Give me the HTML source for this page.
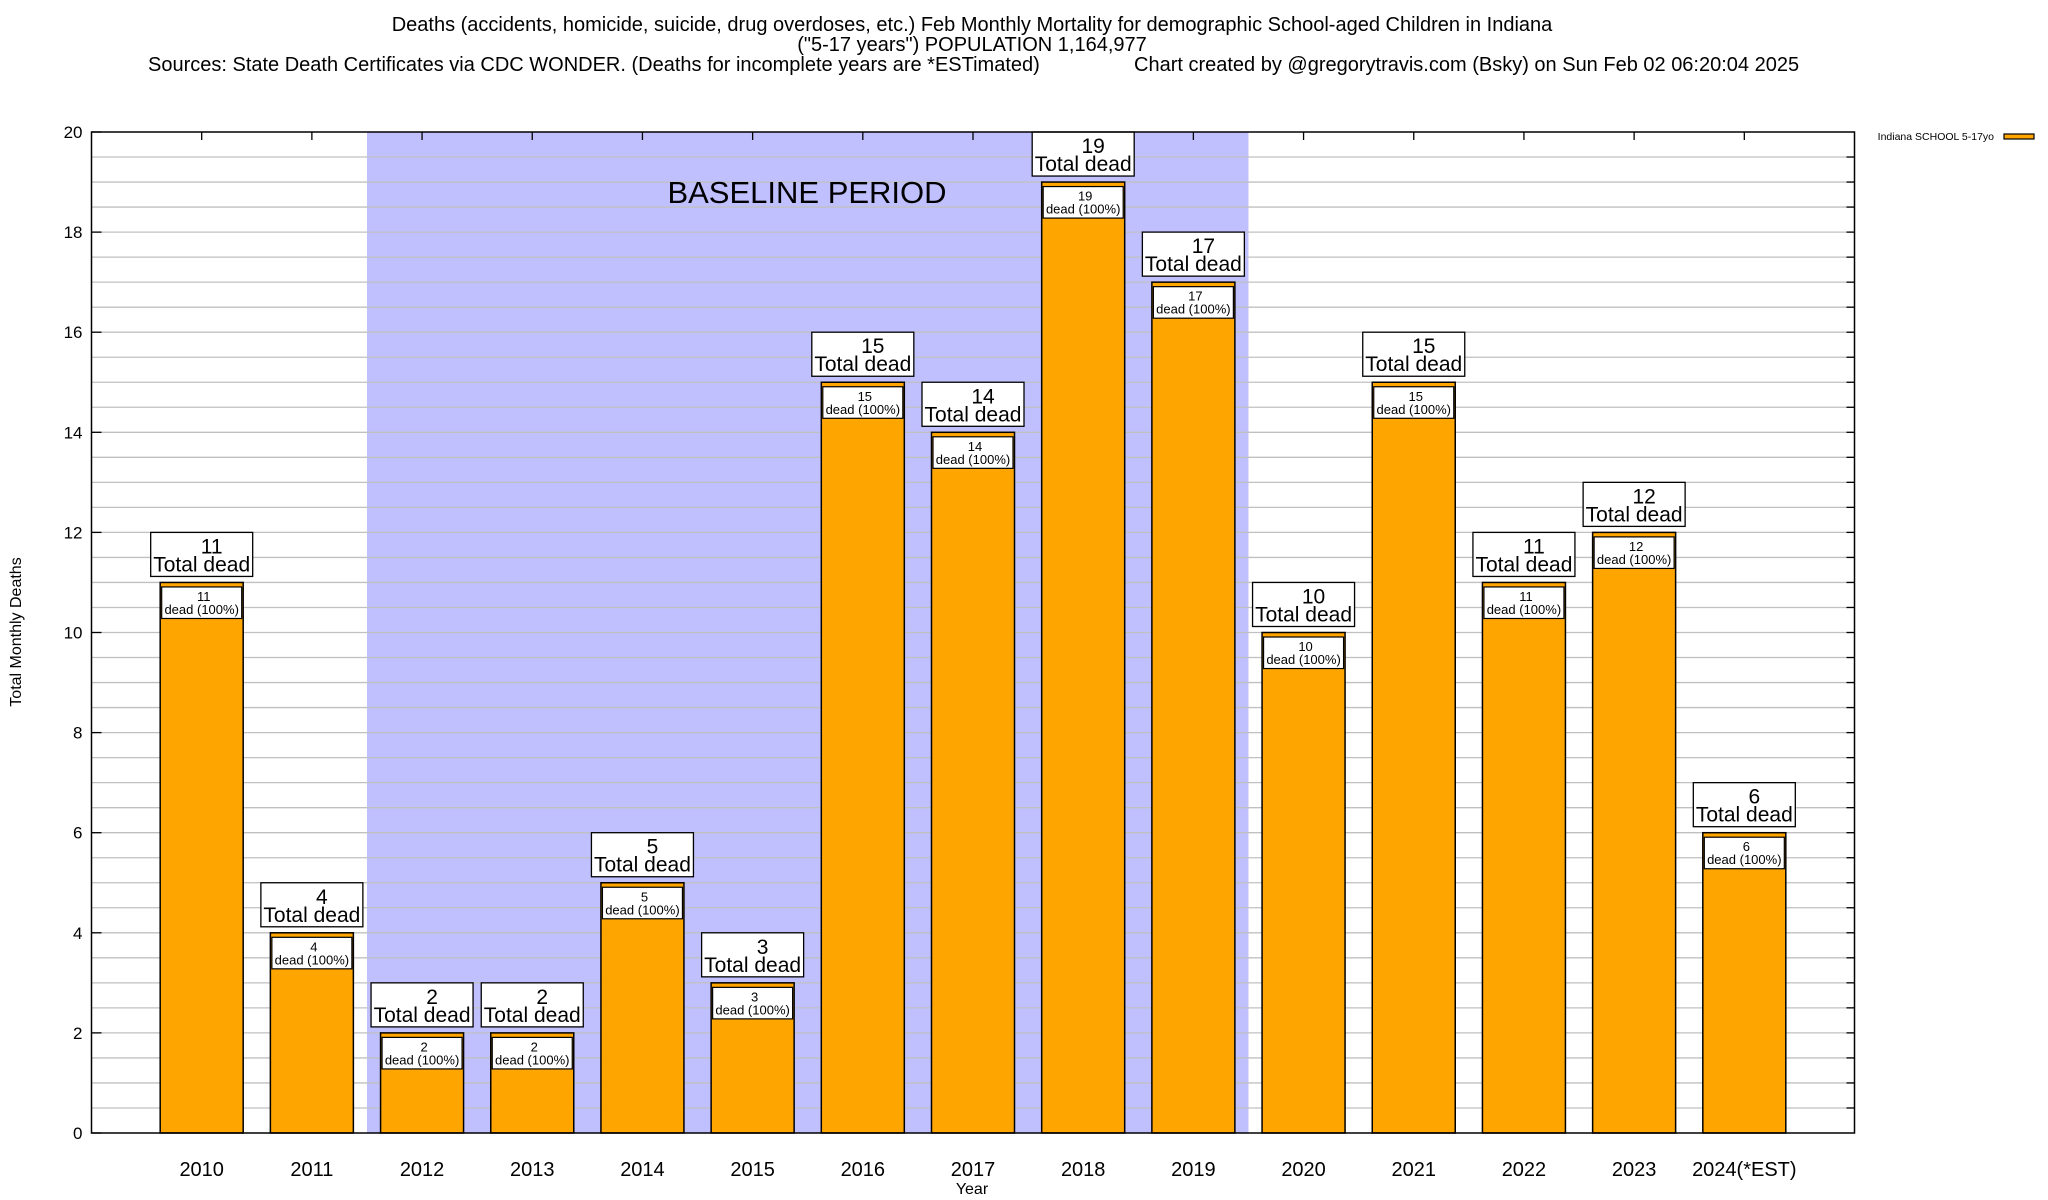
<!DOCTYPE html>
<html><head><meta charset="utf-8"><style>
body{margin:0;background:#fff}
svg{display:block;font-family:"Liberation Sans",Arial,sans-serif}
</style></head><body>
<svg id="chart" width="2048" height="1200" viewBox="0 0 2048 1200">
<g font-size="20" text-anchor="middle">
<text x="972" y="31">Deaths (accidents, homicide, suicide, drug overdoses, etc.) Feb Monthly Mortality for demographic School-aged Children in Indiana</text>
<text x="972" y="51">("5-17 years") POPULATION 1,164,977</text>
<text x="148" y="71" text-anchor="start">Sources: State Death Certificates via CDC WONDER. (Deaths for incomplete years are *ESTimated)</text>
<text x="1134" y="71" text-anchor="start">Chart created by @gregorytravis.com (Bsky) on Sun Feb 02 06:20:04 2025</text>
</g>
<g id="plot"></g>
<text x="21" y="632" font-size="16" text-anchor="middle" transform="rotate(-90 21 632)">Total Monthly Deaths</text>
<text x="972" y="1194" font-size="16" text-anchor="middle">Year</text>
<g>
<text x="1994" y="140" font-size="10.5" text-anchor="end">Indiana SCHOOL 5-17yo</text>
<rect x="2004" y="134" width="30" height="5" fill="#ffa500" stroke="#000" stroke-width="1.2"/>
</g>
</svg>
<script>
const categories=["2010","2011","2012","2013","2014","2015","2016","2017","2018","2019","2020","2021","2022","2023","2024(*EST)"];
const deaths=[11,4,2,2,5,3,15,14,19,17,10,15,11,12,6];
const yTicks=[0,2,4,6,8,10,12,14,16,18,20];
const baselineRange=[2.5,10.5];
const L=91.5,R=1854.5,T=132,B=1133,ymax=20,xmax=16;
const X=v=>L+(R-L)*v/xmax, Y=v=>B-(B-T)*v/ymax;
const NS="http://www.w3.org/2000/svg";
const g=document.getElementById('plot');
function mk(t,a,p){const e=document.createElementNS(NS,t);for(const k in a)e.setAttribute(k,a[k]);(p||g).appendChild(e);return e;}
let e=mk('rect',{x:X(baselineRange[0]),y:T,width:X(baselineRange[1])-X(baselineRange[0]),height:B-T,fill:'#c0c0ff'});


for(let v=0.5;v<ymax;v+=0.5){
 e=mk('line',{x1:L,x2:R,y1:Y(v),y2:Y(v),stroke:'#c0c0c0','stroke-width':1.3});
 
 
 mk('line',{x1:R-8,x2:R,y1:Y(v),y2:Y(v),stroke:'#000','stroke-width':1.3});
}
yTicks.forEach(t=>{mk('line',{x1:L,x2:L+10,y1:Y(t),y2:Y(t),stroke:'#000','stroke-width':1.3});});
e=mk('text',{x:807,y:203,'font-size':31,'text-anchor':'middle'});e.textContent='BASELINE PERIOD';


yTicks.forEach(t=>{
 e=mk('text',{x:L-9,y:Y(t)+6,'font-size':17,'text-anchor':'end'});e.textContent=t;
 
 
});
const bw=83;
categories.forEach((c,i)=>{
 const cx=X(i+1),v=deaths[i];
 mk('line',{x1:cx,x2:cx,y1:T,y2:T+8,stroke:'#000','stroke-width':1.3});
 e=mk('text',{x:cx,y:1176,'font-size':20,'text-anchor':'middle'});e.textContent=c;
 
 
 e=mk('rect',{x:cx-bw/2,y:Y(v),width:bw,height:B-Y(v),fill:'#ffa500',stroke:'#000','stroke-width':1.5});
 
 
 e=mk('rect',{x:cx-bw/2+1.5,y:Y(v-0.09),width:bw-3,height:Y(v-0.72)-Y(v-0.09),fill:'#fff',stroke:'#000','stroke-width':1.2});
 
 
 e=mk('text',{x:cx+2,y:Y(v-0.09)+14,'font-size':13,'text-anchor':'middle'});e.textContent=v;
 e=mk('text',{x:cx,y:Y(v-0.09)+27,'font-size':13,'text-anchor':'middle'});e.textContent='dead (100%)';
 
 
 const bt=Math.max(Y(v+1),T);
 e=mk('rect',{x:cx-51,y:bt,width:102,height:Y(v+0.12)-bt,fill:'#fff',stroke:'#000','stroke-width':1.3});
 
 
 e=mk('text',{x:cx+10,y:Y(v+1)+21,'font-size':21,'text-anchor':'middle'});e.textContent=v;
 
 
 e=mk('text',{x:cx,y:Y(v+1)+39,'font-size':21,'text-anchor':'middle'});e.textContent='Total dead';
 
 
});
e=mk('rect',{x:L,y:T,width:R-L,height:B-T,fill:'none',stroke:'#000','stroke-width':1.5});


</script>
</body></html>
